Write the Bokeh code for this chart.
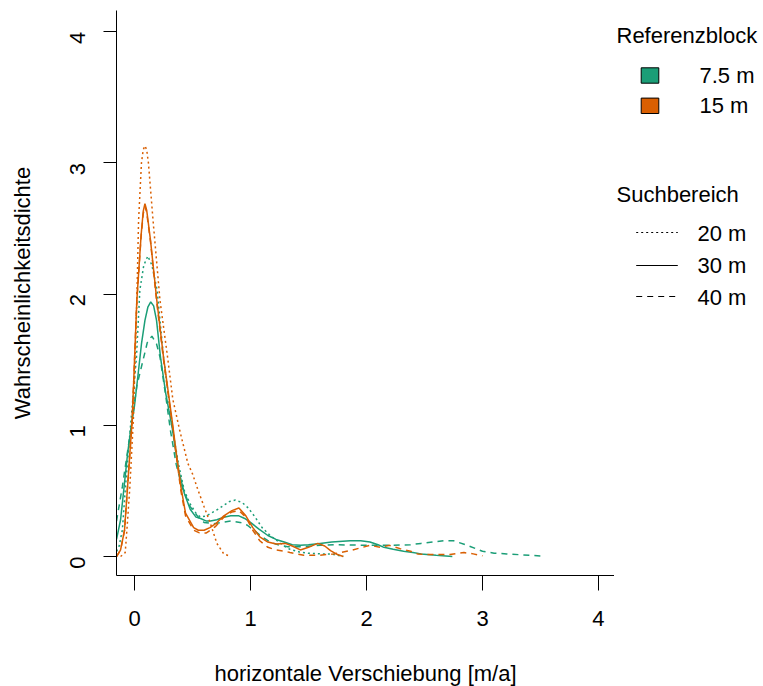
import math
from bokeh.plotting import figure
from bokeh.models import Range1d, FixedTicker
from bokeh.layouts import row
from bokeh.core.properties import value
from bokeh.embed import file_html
from bokeh.resources import INLINE

# ---------------- data ----------------
x_ticks = [0, 1, 2, 3, 4]
y_ticks = [0, 1, 2, 3, 4]
x_label = "horizontale Verschiebung [m/a]"
y_label = "Wahrscheinlichkeitsdichte"

ref_title = "Referenzblock"
ref_labels = ["7.5 m", "15 m"]
ref_colors = ["#1B9E77", "#D95F02"]
search_title = "Suchbereich"
search_labels = ["20 m", "30 m", "40 m"]

# Referenzblock 7.5 m (green)
g20_x = [-0.155, -0.135, -0.105, -0.078, -0.03, 0.017, 0.046, 0.08, 0.115, 0.15, 0.195, 0.25, 0.33,
         0.38, 0.43, 0.48, 0.53, 0.57, 0.62, 0.66, 0.72, 0.77, 0.82, 0.87, 0.93, 0.98, 1.04, 1.10,
         1.17, 1.23, 1.29, 1.34, 1.42, 1.50, 1.60, 1.69, 1.75, 1.80]
g20_y = [0.04, 0.07, 0.20, 0.53, 1.04, 1.52, 2.03, 2.22, 2.29, 2.22, 2.03, 1.52, 0.96,
         0.70, 0.50, 0.40, 0.33, 0.30, 0.31, 0.33, 0.36, 0.39, 0.42, 0.43, 0.41, 0.37, 0.30, 0.22,
         0.16, 0.12, 0.08, 0.055, 0.035, 0.025, 0.02, 0.02, 0.01, 0.0]
g30_x = [-0.155, -0.12, -0.09, -0.06, -0.03, 0.0, 0.03, 0.06, 0.09, 0.115, 0.14, 0.165, 0.19,
         0.224, 0.27, 0.325,
         0.38, 0.43, 0.48, 0.53, 0.57, 0.62, 0.655, 0.71, 0.77, 0.83, 0.90, 0.95, 1.0, 1.07, 1.15,
         1.22, 1.29, 1.36, 1.43, 1.50, 1.60, 1.70, 1.86, 1.95, 2.03, 2.10, 2.15, 2.23, 2.32, 2.40,
         2.47, 2.60, 2.74]
g30_y = [0.13, 0.28, 0.53, 0.78, 0.98, 1.15, 1.38, 1.62, 1.80, 1.90, 1.94, 1.91, 1.80,
         1.52, 1.24, 0.98,
         0.66, 0.48, 0.36, 0.30, 0.29, 0.27, 0.27, 0.28, 0.30, 0.31, 0.31, 0.29, 0.26, 0.21, 0.16,
         0.13, 0.11, 0.09, 0.085, 0.09, 0.10, 0.11, 0.12, 0.12, 0.11, 0.09, 0.07, 0.055, 0.04, 0.03,
         0.02, 0.01, 0.0]
g40_x = [-0.155, -0.105, -0.06, -0.02, 0.02, 0.08, 0.11, 0.15, 0.19, 0.22, 0.27, 0.31, 0.36,
         0.41, 0.48, 0.55, 0.60, 0.68, 0.75, 0.83, 0.91, 0.97, 1.03, 1.10, 1.17, 1.25, 1.32, 1.46,
         1.60, 1.72, 1.85, 2.0, 2.2, 2.38, 2.47, 2.57, 2.67, 2.75, 2.87, 3.0, 3.1, 3.21, 3.35, 3.53]
g40_y = [0.27, 0.53, 0.80, 1.04, 1.30, 1.52, 1.63, 1.68, 1.62, 1.52, 1.22, 0.96, 0.70,
         0.53, 0.38, 0.30, 0.26, 0.25, 0.26, 0.27, 0.26, 0.24, 0.20, 0.15, 0.11, 0.085, 0.075, 0.075,
         0.085, 0.09, 0.088, 0.085, 0.085, 0.09, 0.10, 0.11, 0.12, 0.12, 0.085, 0.04, 0.025, 0.02,
         0.012, 0.003]

# Referenzblock 15 m (orange)
o20_x = [-0.12, -0.08, -0.06, -0.04, -0.025, -0.01, 0.02, 0.035, 0.06, 0.075, 0.09, 0.105, 0.12,
         0.16, 0.22, 0.285, 0.33, 0.39, 0.46, 0.50, 0.55, 0.60, 0.655, 0.71, 0.77, 0.83]
o20_y = [0.0, 0.03, 0.27, 0.53, 0.79, 1.04, 1.95, 2.56, 3.0, 3.1, 3.13, 3.1, 3.0,
         2.56, 1.95, 1.52, 1.20, 0.96, 0.71, 0.63, 0.50, 0.38, 0.25, 0.10, 0.02, 0.0]
o30_x = [-0.155, -0.12, -0.086, -0.06, -0.02, 0.02, 0.057, 0.075, 0.09, 0.105, 0.138, 0.19, 0.25,
         0.33, 0.36, 0.40, 0.44, 0.51, 0.55, 0.60, 0.65, 0.70, 0.77, 0.84, 0.90, 0.96, 1.02, 1.08,
         1.15, 1.22, 1.30, 1.36, 1.43, 1.50, 1.58, 1.64, 1.69, 1.75, 1.80]
o30_y = [0.0, 0.05, 0.20, 0.53, 1.04, 1.95, 2.45, 2.63, 2.69, 2.64, 2.41, 1.97, 1.52,
         1.00, 0.79, 0.53, 0.33, 0.22, 0.20, 0.20, 0.22, 0.25, 0.31, 0.35, 0.37, 0.31, 0.22, 0.15,
         0.11, 0.095, 0.10, 0.08, 0.05, 0.07, 0.10, 0.08, 0.045, 0.015, 0.0]
o40_x = [-0.155, -0.12, -0.086, -0.06, -0.02, 0.02, 0.057, 0.075, 0.09, 0.105, 0.138, 0.19, 0.25,
         0.33, 0.36, 0.40, 0.44, 0.51, 0.56, 0.62, 0.70, 0.77, 0.84, 0.90, 0.96, 1.02, 1.08, 1.15,
         1.22, 1.30, 1.34, 1.46, 1.60, 1.72, 1.86, 2.03, 2.12, 2.20, 2.29, 2.38, 2.44, 2.52, 2.72,
         2.84, 2.92, 3.0]
o40_y = [0.0, 0.05, 0.20, 0.53, 1.04, 1.95, 2.44, 2.61, 2.67, 2.62, 2.40, 1.95, 1.50,
         0.98, 0.77, 0.50, 0.31, 0.20, 0.18, 0.18, 0.23, 0.30, 0.34, 0.35, 0.30, 0.20, 0.12, 0.07,
         0.05, 0.04, 0.03, 0.01, 0.01, 0.02, 0.045, 0.085, 0.07, 0.085, 0.06, 0.04, 0.02, 0.015,
         0.015, 0.03, 0.02, 0.005]

series = [
    (g20_x, g20_y, 0, 0), (g30_x, g30_y, 0, 1), (g40_x, g40_y, 0, 2),
    (o20_x, o20_y, 1, 0), (o30_x, o30_y, 1, 1), (o40_x, o40_y, 1, 2),
]

# ---------------- styling ----------------
FONT = "Liberation Sans"
FS = "22px"
dashes = ["2 3", "solid", "6 5"]
LW = 1.5
TOP, FRAME_H, BOTTOM = 10, 565, 110

p = figure(frame_width=498, frame_height=FRAME_H,
           x_range=Range1d(-0.1552, 4.138), y_range=Range1d(-0.1448, 4.1616),
           min_border_left=116, min_border_top=TOP, min_border_right=0,
           min_border_bottom=BOTTOM,
           output_backend="svg", toolbar_location=None)
p.background_fill_color = "white"
p.border_fill_color = "white"
p.outline_line_color = None
p.xgrid.visible = False
p.ygrid.visible = False

for xs, ys, ci, di in series:
    p.line(xs, ys, line_color=ref_colors[ci], line_width=LW, line_dash=dashes[di])

for ax, tks, lab, tout in [(p.xaxis[0], x_ticks, x_label, 15), (p.yaxis[0], y_ticks, y_label, 13)]:
    ax.ticker = FixedTicker(ticks=tks)
    ax.axis_label = lab
    ax.axis_line_color = "black"
    ax.axis_line_width = 1
    ax.major_tick_line_color = "black"
    ax.major_tick_line_width = 1
    ax.major_tick_in = 0
    ax.major_tick_out = tout
    ax.minor_tick_in = 0
    ax.minor_tick_out = 0
    ax.major_label_text_font = FONT
    ax.major_label_text_font_size = FS
    ax.major_label_text_color = "black"
    ax.axis_label_text_font = FONT
    ax.axis_label_text_font_size = FS
    ax.axis_label_text_font_style = "normal"
    ax.axis_label_text_color = "black"

p.xaxis.major_label_standoff = 20
p.xaxis.axis_label_standoff = 32
p.yaxis.major_label_orientation = math.pi / 2
p.yaxis.major_label_standoff = 26
p.yaxis.axis_label_standoff = 25

# ---------------- legend panel (data units = screen pixels) ----------------
LW_W = 149
lf = figure(frame_width=LW_W, frame_height=FRAME_H,
            x_range=Range1d(0, LW_W), y_range=Range1d(TOP + FRAME_H, TOP),
            x_axis_type=None, y_axis_type=None, title=None,
            min_border_left=0, min_border_right=0, min_border_top=TOP, min_border_bottom=BOTTOM,
            output_backend="svg", toolbar_location=None)
lf.outline_line_color = None
lf.xgrid.visible = False
lf.ygrid.visible = False
lf.background_fill_color = "white"
lf.border_fill_color = "white"

lf.text(x=[2, 2], y=[35, 193.5], text=[ref_title, search_title],
        text_font=value(FONT), text_font_size="22px", text_color="black",
        text_baseline="alphabetic", text_align="left")
lf.rect(x=[35.5, 35.5], y=[75, 105.3], width=17.6, height=15.4,
        fill_color=ref_colors, line_color="black", line_width=1)
lf.text(x=[85, 85], y=[75, 105], text=ref_labels,
        text_font=value(FONT), text_font_size="22px", text_color="black",
        text_baseline="alphabetic", text_align="left")
for i, yy in enumerate([232, 265, 296]):
    lf.line(x=[21.7, 63.3], y=[yy, yy], line_color="black", line_width=1.2, line_dash=dashes[i])
lf.text(x=[83, 83, 83], y=[233, 265, 297], text=search_labels,
        text_font=value(FONT), text_font_size="22px", text_color="black",
        text_baseline="alphabetic", text_align="left")

layout = row(p, lf)
open("out.html", "w").write(file_html(layout, INLINE))
